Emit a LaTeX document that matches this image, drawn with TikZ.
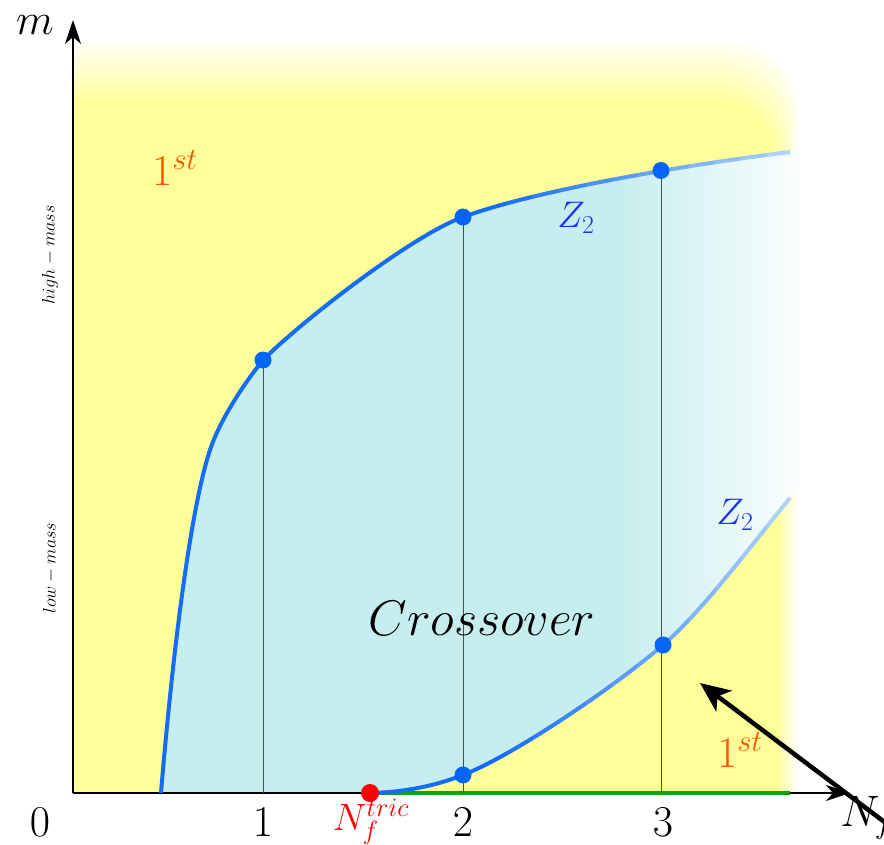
\RequirePackage{fix-cm}
\documentclass[tikz,border=0pt]{standalone}
\usetikzlibrary{arrows.meta}
\definecolor{yel}{RGB}{255,255,153}
\definecolor{cya}{RGB}{199,238,238}
\definecolor{curv}{RGB}{20,108,248}
\definecolor{curvl}{RGB}{175,210,248}
\definecolor{dotb}{RGB}{5,100,250}
\definecolor{ora}{RGB}{255,85,0}
\definecolor{grn}{RGB}{0,170,0}
\definecolor{zb}{RGB}{25,50,255}
\begin{document}
\begin{tikzpicture}[x=1pt,y=-1pt,
  big/.style={font=\fontsize{44}{50}\selectfont},
  mid/.style={font=\fontsize{37}{42}\selectfont},
  small/.style={font=\fontsize{18}{20}\selectfont},
  bdot/.style={circle,fill=dotb,inner sep=0pt,minimum size=17pt},
  vline/.style={draw=black!70,line width=1pt},
  axis/.style={line width=1.8pt,-{Stealth[length=24pt,width=16pt,inset=7pt]}},
  curve/.style={line width=4pt}]
\useasboundingbox (0,0) rectangle (884,845);
% yellow background with soft top/right edges
\begin{scope}
\clip (73,0) rectangle (884,793);
\foreach \k in {1,...,16}{
  \pgfmathsetmacro\op{1/(17-\k)}
  \fill[yel,opacity=\op,rounded corners=70pt] (20,900) rectangle ({800-1.4*\k},{36+4*\k});
}
\end{scope}
% crossover region
\begin{scope}
\clip (161,793) .. controls (172,660) and (190,510) .. (210,450)
  .. controls (220,420) and (243,385) .. (263,360)
  .. controls (303,320) and (413,235) .. (463,217)
  .. controls (543,188) and (700,163) .. (790,152)
  -- (800,151) -- (800,488) -- (790,498)
  .. controls (760,534) and (703,611) .. (663,645)
  .. controls (613,688) and (513,755.5) .. (463,775)
  .. controls (440,784) and (410,792) .. (370,793) -- cycle;
\fill[cya] (0,0) rectangle (621,845);
\shade[left color=cya,right color=white] (620,0) rectangle (818,845);
\end{scope}
% axes
\coordinate (O) at (73,793);
\coordinate (ytip) at (73,20);
\coordinate (xtip) at (850,793);
\draw[axis] (O) -- (ytip);
\draw[axis] (O) -- (xtip);
% points
\coordinate (tric) at (370,793);
\coordinate (gend) at (790,793);
\coordinate (p1) at (263,360);
\coordinate (p2) at (463,217);
\coordinate (p3) at (661,170.5);
\coordinate (q2) at (463,775);
\coordinate (q3) at (663,645);
\coordinate (b1) at (263,793);
\coordinate (b2) at (463,793);
\coordinate (b3) at (661,793);
\draw[grn,line width=4pt] (tric) -- (gend);
\draw[vline] (p1) -- (b1);
\draw[vline] (p2) -- (b2);
\draw[vline] (p3) -- (b3);
% curves with fading colour
\foreach \k in {0,...,12}{
  \pgfmathtruncatemacro\pc{max(0,min(100,(\k-1)*9))}
  \pgfmathsetmacro\xa{\k==0 ? 0 : 455+\k*26}
  \pgfmathsetmacro\xb{481+\k*26}
  \begin{scope}
  \clip (\xa,0) rectangle (\xb,845);
  \draw[curve,curvl!\pc!curv] (161,793) .. controls (172,660) and (190,510) .. (210,450)
    .. controls (220,420) and (243,385) .. (263,360)
    .. controls (303,320) and (413,235) .. (463,217)
    .. controls (543,188) and (700,163) .. (790,152);
  \draw[curve,curvl!\pc!curv] (370,793) .. controls (410,792) and (440,784) .. (463,775)
    .. controls (513,755.5) and (613,688) .. (663,645)
    .. controls (703,611) and (760,534) .. (790,498);
  \end{scope}
}
% dots
\node[bdot] (d1) at (p1) {};
\node[bdot] (d2) at (p2) {};
\node[bdot] (d3) at (p3) {};
\node[bdot] (e2) at (q2) {};
\node[bdot] (e3) at (q3) {};
\node[circle,fill=red,inner sep=0pt,minimum size=18pt] (dt) at (tric) {};
% labels
\node[big] (lm) at (35,25) {$m$};
\node[big] (l0) at (40,822) {$0$};
\node[big] (l1) at (263,822) {$1$};
\node[big] (l2) at (463,822) {$2$};
\node[big] (l3) at (663,822) {$3$};
\node[text=red,inner sep=0pt,font=\fontsize{38}{44}\selectfont] (ltric) at (371,822) {$N_f^{tric}$};
\node[big,inner sep=0pt] (lnf) at (867,818) {$N_f$};
\node[big,text=ora] (fs1) at (175,168) {$1^{st}$};
\node[big,text=ora] (fs2) at (740,750) {$1^{st}$};
\node[mid,text=zb] (z1) at (576,218) {$Z_2$};
\node[mid,text=zb] (z2) at (735,515) {$Z_2$};
\node[font=\fontsize{50}{56}\selectfont] (cr) at (482,618) {$Crossover$};
\node[small,rotate=90] (hm) at (50,255) {$high-mass$};
\node[small,rotate=90] (lowm) at (50,568) {$low-mass$};
% big arrow
\coordinate (as) at (915,845);
\coordinate (at) at (700,683);
\draw[line width=4.5pt,-{Stealth[length=30pt,width=26pt,inset=8pt]}] (as) -- (at);
\end{tikzpicture}
\end{document}
